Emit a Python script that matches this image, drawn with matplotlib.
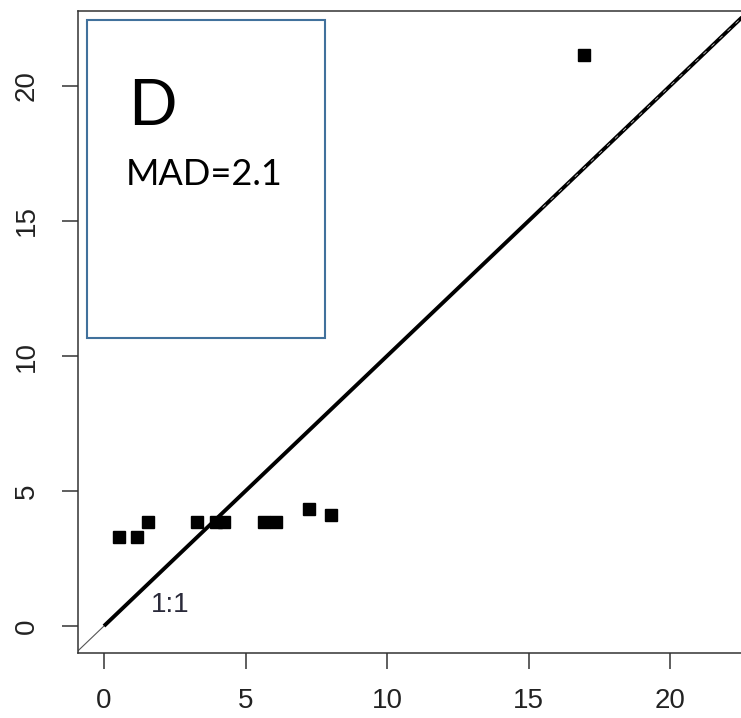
import matplotlib
matplotlib.use("Agg")
import matplotlib.pyplot as plt
from matplotlib.patches import Rectangle

# Data
obs_x = [0.53, 1.17, 1.55, 3.29, 3.95, 4.25, 5.65, 6.08, 7.24, 8.02, 16.96]
obs_y = [3.30, 3.30, 3.85, 3.85, 3.85, 3.85, 3.85, 3.85, 4.33, 4.11, 21.15]
x_ticks = [0, 5, 10, 15, 20]
y_ticks = [0, 5, 10, 15, 20]
panel_label = "D"
mad_label = "MAD=2.1"
line_label = "1:1"

W, H = 741, 718
fig = plt.figure(figsize=(W / 100, H / 100), dpi=100)
fig.patch.set_facecolor("white")

def fx(px):
    return px / W

def fy(py):
    return 1 - py / H

# axes geometry in pixels (right side runs beyond the picture)
left_px, right_px, top_px, bottom_px = 78, 800, 11, 652.7
ax = fig.add_axes([fx(left_px), fy(bottom_px), (right_px - left_px) / W, (bottom_px - top_px) / H])
x0_px, xs = 104, 28.3
y0_px, ys = 626, 27.0
ax.set_xlim((left_px - x0_px) / xs, (right_px - x0_px) / xs)
ax.set_ylim((y0_px - bottom_px) / ys, (y0_px - top_px) / ys)

for s in ax.spines.values():
    s.set_linewidth(1.1)
    s.set_color("#333333")

tick_font = dict(family=["Liberation Sans", "DejaVu Sans"], size=20)
ax.set_xticks(x_ticks)
ax.set_yticks(y_ticks)
ax.set_xticklabels([str(t) for t in x_ticks], fontdict=tick_font, color="#222222")
ax.set_yticklabels([str(t) for t in y_ticks], fontdict=tick_font, color="#222222",
                   rotation=90, va="center")
ax.tick_params(axis="x", length=11.5, width=1.1, color="#333333", pad=14)
ax.tick_params(axis="y", length=11.5, width=1.1, color="#333333", pad=16)

# 1:1 line: thin full-range line and thick segment from 0
lo, hi = ax.get_xlim()
ax.plot([lo, hi], [lo, hi], color="#555555", lw=0.8, zorder=2)
ax.plot([0, hi], [0, hi], color="black", lw=2.8, solid_capstyle="butt", zorder=3)
ax.plot([15.5, hi], [15.5, hi], color="#dddddd", lw=0.5, dashes=(6, 10), zorder=3)

# observations
ax.plot(obs_x, obs_y, linestyle="none", marker="s", markersize=8.8,
        color="black", zorder=4)

# 1:1 label
fig.text(fx(151), fy(612), line_label, ha="left", va="baseline",
         fontsize=20, family=["Liberation Sans", "DejaVu Sans"], color="#2a2a3a")

# inset label box
box = Rectangle((fx(87), fy(338)), (325 - 87) / W, (338 - 20) / H,
                transform=fig.transFigure, fill=False, edgecolor="#41719C", lw=1.5)
fig.patches.append(box)
fig.text(fx(128), fy(125), panel_label, ha="left", va="baseline",
         fontsize=46, family=["Lato", "DejaVu Sans"], color="black")
fig.text(fx(126), fy(185), mad_label, ha="left", va="baseline",
         fontsize=26, family=["Lato", "DejaVu Sans"], color="black")

fig.savefig("out.png", dpi=100)
